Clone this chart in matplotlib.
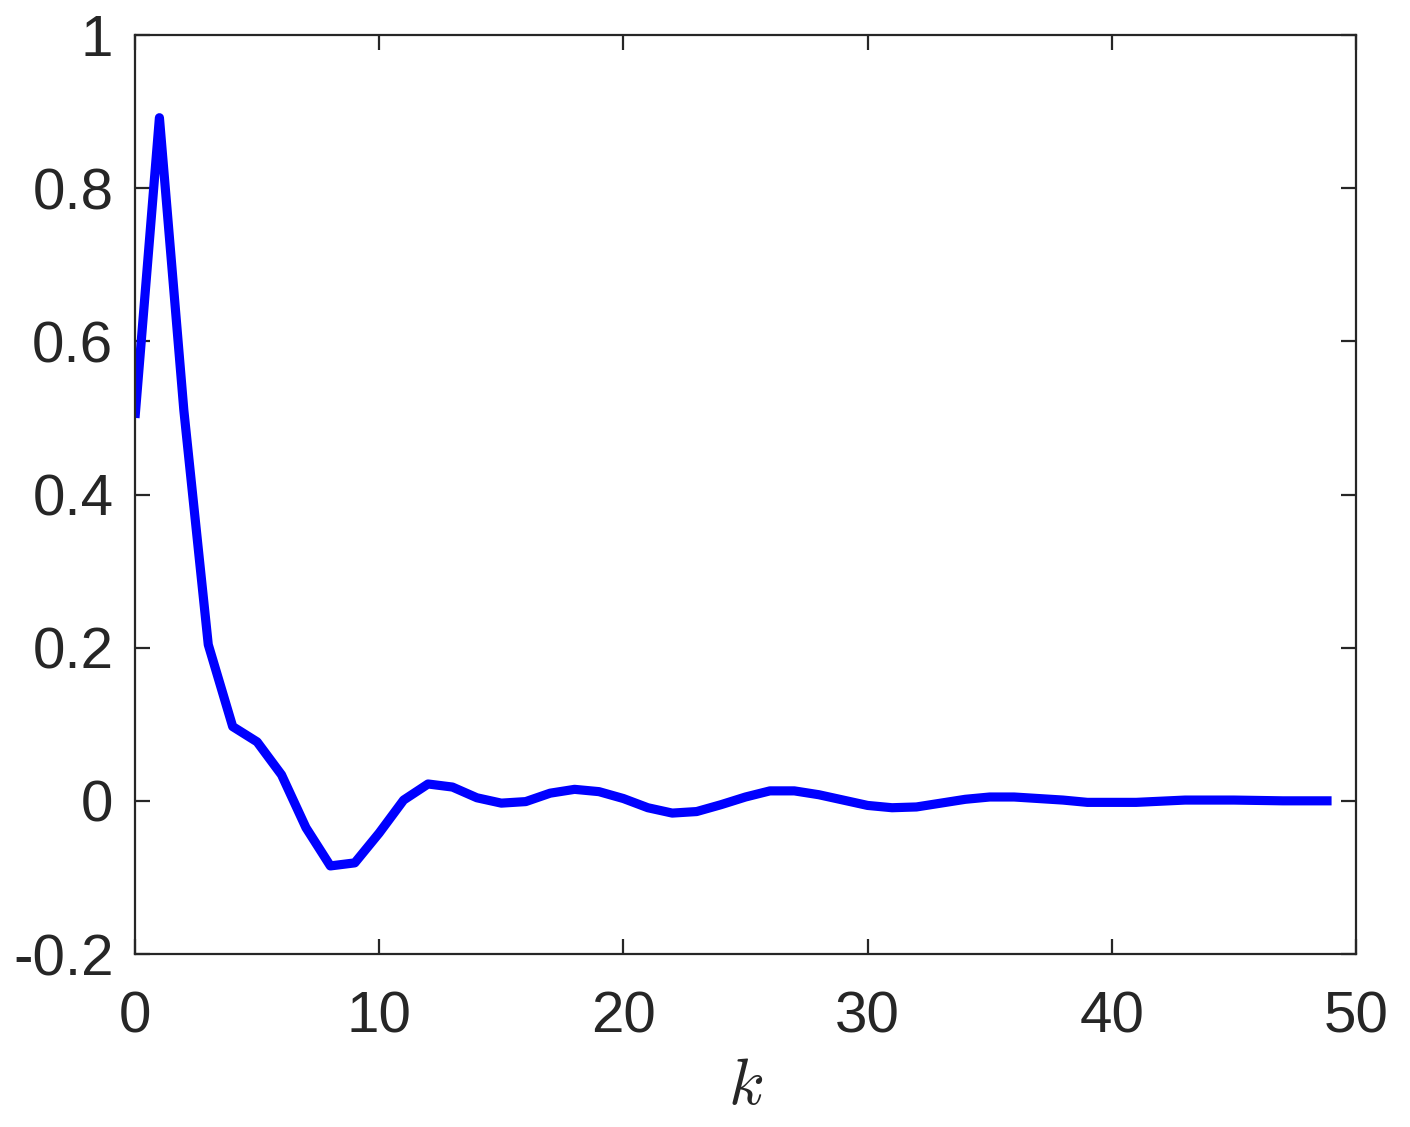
import matplotlib
matplotlib.use("Agg")
import matplotlib.pyplot as plt
import numpy as np

k = list(range(50))
values = [0.50, 0.892, 0.51, 0.204, 0.097, 0.077, 0.034, -0.035, -0.085, -0.081,
          -0.042, 0.001, 0.022, 0.018, 0.004, -0.003, -0.001, 0.010, 0.015, 0.012,
          0.003, -0.009, -0.016, -0.014, -0.005, 0.005, 0.013, 0.013, 0.008, 0.001,
          -0.006, -0.009, -0.008, -0.003, 0.002, 0.005, 0.005, 0.003, 0.001, -0.002,
          -0.002, -0.002, -0.0005, 0.001, 0.001, 0.001, 0.0005, 0.0, 0.0, 0.0]
xticks = [0, 10, 20, 30, 40, 50]
yticks = [-0.2, 0, 0.2, 0.4, 0.6, 0.8, 1]
yticklabels = ["-0.2", "0", "0.2", "0.4", "0.6", "0.8", "1"]

plt.rcParams['font.family'] = ['Liberation Sans', 'DejaVu Sans']
plt.rcParams['mathtext.fontset'] = 'cm'

fig = plt.figure(figsize=(14.1, 11.27), dpi=100)
ax = fig.add_axes([135/1410, 1-954/1127, (1356-135)/1410, (954-35)/1127])
ax.plot(k, values, color='#0000ff', linewidth=6.6, solid_joinstyle='round',
        solid_capstyle='butt')
ax.set_xlim(0, 50)
ax.set_ylim(-0.2, 1)
ax.set_xticks(xticks)
ax.set_xticklabels([str(t) for t in xticks])
ax.set_yticks(yticks)
ax.set_yticklabels(yticklabels)
col = '#262626'
for s in ax.spines.values():
    s.set_linewidth(1.6)
    s.set_color(col)
ax.tick_params(direction='in', length=10.5, width=1.6, colors=col, labelsize=42,
               top=True, right=True)
ax.tick_params(axis='x', pad=26)
ax.tick_params(axis='y', pad=15.5)
ax.set_xlabel('$k$', fontsize=47, color=col, labelpad=9)
fig.savefig('out.png', dpi=100)
